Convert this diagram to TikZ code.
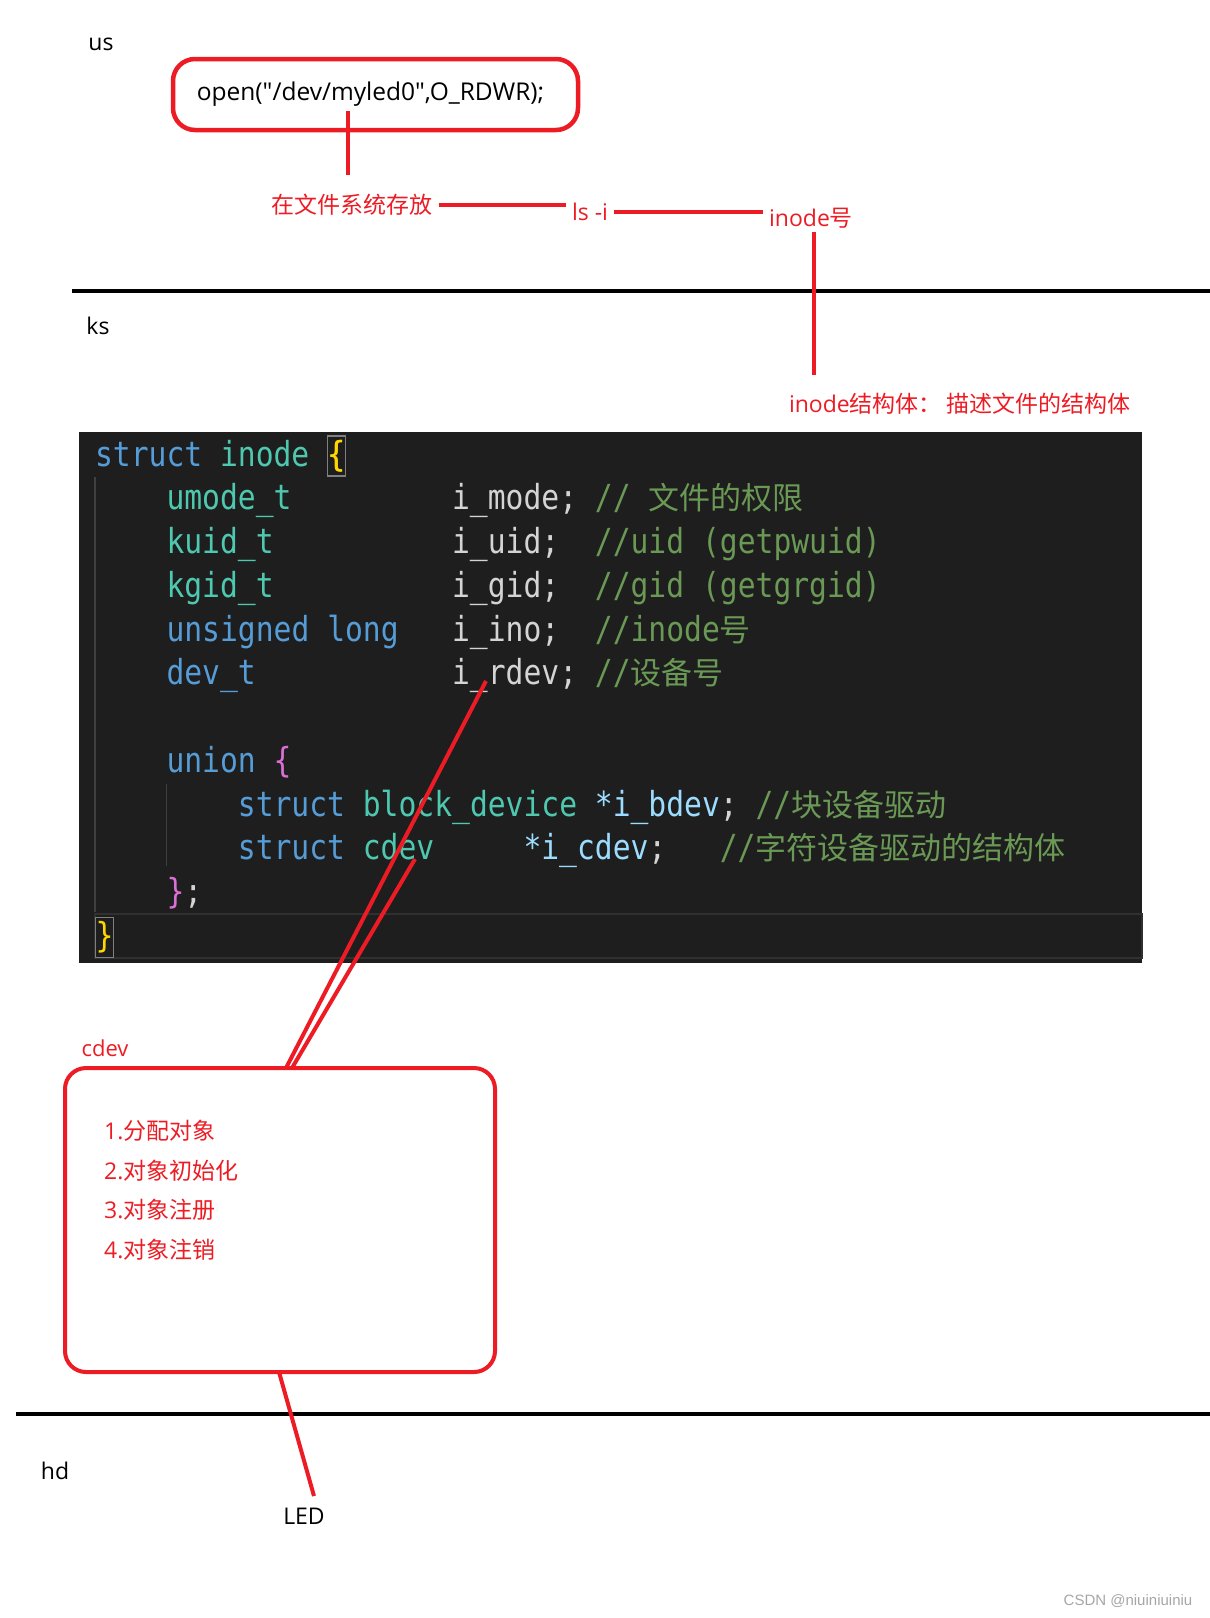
\documentclass[tikz,border=0pt]{standalone}
\usepackage{fontspec}
\setmainfont{Open Sans}
\newfontfamily\callfont{Open Sans}
\newfontfamily\cjk{Noto Sans CJK SC}
\newfontfamily\codefont[FakeStretch=0.86]{DejaVu Sans Mono}
\newfontfamily\markfont{Liberation Sans}

\definecolor{markred}{HTML}{ED1C24}
\definecolor{codebg}{HTML}{1E1E1E}
\definecolor{kwblue}{HTML}{569CD6}
\definecolor{tyteal}{HTML}{4EC9B0}
\definecolor{idwhite}{HTML}{D4D4D4}
\definecolor{varblue}{HTML}{9CDCFE}
\definecolor{cmgreen}{HTML}{6A9955}
\definecolor{braceyellow}{HTML}{FFD700}
\definecolor{bracepink}{HTML}{DA70D6}
\definecolor{guidegray}{HTML}{404040}
\definecolor{hlgray}{HTML}{303030}

% one token of the code listing: name, column, row, colour, text
\newcommand{\codetok}[5]{\node[code,text=#4] (#1) at ({94.9+#2*17.85},{466+#3*43.75}) {#5};}
\newcommand{\cjkcode}{\cjk\fontsize{31}{36}\selectfont}

\begin{document}
\begin{tikzpicture}[x=1pt,y=-1pt,
    redline/.style={draw=markred,line width=4pt},
    redbox/.style={draw=markred,line width=4.5pt,rounded corners=22pt},
    redtext/.style={text=markred,font=\fontsize{23}{28}\selectfont,inner sep=6pt},
    blacktext/.style={font=\fontsize{23}{28}\selectfont,inner sep=6pt},
    layerline/.style={line width=4pt,black},
    code/.style={font=\codefont\fontsize{34.5}{40}\selectfont,anchor=base west,inner sep=0pt},
    bracebox/.style={draw=gray,line width=1.2pt,text height=30pt,text depth=10pt},
    guide/.style={draw=guidegray,line width=1.5pt}]
    \useasboundingbox (0,0) rectangle (1210,1618);

    % Layer names
    \node[blacktext] (us) at (101,44) {us};
    \node[blacktext] (ks) at (98,326) {ks};
    \node[blacktext] (hd) at (55,1471) {hd};

    % Layer borders
    \coordinate (b1l) at (72,291);
    \coordinate (b1r) at (1210,291);
    \coordinate (b2l) at (16,1414);
    \coordinate (b2r) at (1210,1414);
    \draw[layerline] (b1l) -- (b1r);
    \draw[layerline] (b2l) -- (b2r);

    % User space call
    \node[redbox,minimum width=405,minimum height=71,text=black,
      font=\callfont\fontsize{24.5}{28}\selectfont] (openbox) at (375.5,94.5) {\hspace*{-10pt}open("/dev/myled0",O\_RDWR);};
    \node[redtext] (store) at (352,205) {\cjk 在文件系统存放};
    \node[redtext] (lsi) at (590,212) {ls -i};
    \node[redtext] (inonum) at (811,218) {inode{\cjk 号}};
    \node[redtext] (idesc) at (960,404) {inode{\cjk 结构体： 描述文件的结构体}};

    \coordinate (c1) at (348,111);
    \coordinate (c2) at (348,175);
    \coordinate (c3) at (814,232);
    \coordinate (c4) at (814,375);
    \draw[redline] (c1) -- (c2);
    \draw[redline] (store.east) -- (store.east -| lsi.west);
    \draw[redline] (lsi.east) -- (lsi.east -| inonum.west);
    \draw[redline] (c3) -- (c4);

    % Code listing
    \node[fill=codebg,minimum width=1063,minimum height=531,inner sep=0pt] (codebox) at (610.5,697.5) {};
    \draw[draw=hlgray,line width=2pt] (95,914) rectangle (1142,958);
    \draw[guide] (94.9,477) -- (94.9,912);
    \draw[guide] (166.3,784) -- (166.3,866);

    \codetok{r0a}{0}{0}{kwblue}{struct}
    \codetok{r0b}{7}{0}{tyteal}{inode}
    \codetok{r0c}{13}{0}{braceyellow}{\{}
    \node[bracebox,code,text=braceyellow] (r0box) at (r0c.base west) {\{};

    \codetok{r1a}{4}{1}{tyteal}{umode\_t}
    \codetok{r1b}{20}{1}{idwhite}{i\_mode;}
    \codetok{r1c}{28}{1}{cmgreen}{// {\cjkcode 文件的权限}}

    \codetok{r2a}{4}{2}{tyteal}{kuid\_t}
    \codetok{r2b}{20}{2}{idwhite}{i\_uid;}
    \codetok{r2c}{28}{2}{cmgreen}{//uid (getpwuid)}

    \codetok{r3a}{4}{3}{tyteal}{kgid\_t}
    \codetok{r3b}{20}{3}{idwhite}{i\_gid;}
    \codetok{r3c}{28}{3}{cmgreen}{//gid (getgrgid)}

    \codetok{r4a}{4}{4}{kwblue}{unsigned long}
    \codetok{r4b}{20}{4}{idwhite}{i\_ino;}
    \codetok{r4c}{28}{4}{cmgreen}{//inode{\cjkcode 号}}

    \codetok{r5a}{4}{5}{kwblue}{dev\_t}
    \codetok{r5b}{20}{5}{idwhite}{i\_rdev;}
    \codetok{r5c}{28}{5}{cmgreen}{//{\cjkcode 设备号}}

    \codetok{r7a}{4}{7}{kwblue}{union}
    \codetok{r7b}{10}{7}{bracepink}{\{}

    \codetok{r8a}{8}{8}{kwblue}{struct}
    \codetok{r8b}{15}{8}{tyteal}{block\_device}
    \codetok{r8c}{28}{8}{varblue}{*i\_bdev}
    \codetok{r8d}{35}{8}{idwhite}{;}
    \codetok{r8e}{37}{8}{cmgreen}{//{\cjkcode 块设备驱动}}

    \codetok{r9a}{8}{9}{kwblue}{struct}
    \codetok{r9b}{15}{9}{tyteal}{cdev}
    \codetok{r9c}{24}{9}{varblue}{*i\_cdev}
    \codetok{r9d}{31}{9}{idwhite}{;}
    \codetok{r9e}{35}{9}{cmgreen}{//{\cjkcode 字符设备驱动的结构体}}

    \codetok{r10a}{4}{10}{bracepink}{\}}
    \codetok{r10b}{5}{10}{idwhite}{;}

    \node[bracebox,code,text=braceyellow] (r11a) at ({94.9},{466+11*43.75}) {\}};

    % Character device object
    \node[text=markred,font=\fontsize{22}{26}\selectfont] (cdevname) at (105,1048) {cdev};
    \node[redbox,line width=4pt,rounded corners=21pt,minimum width=430,minimum height=304] (cdevbox) at (280,1220) {};
    \node[redtext,anchor=west] (step1) at (98,1131) {1.{\cjk 分配对象}};
    \node[redtext,anchor=west] (step2) at (98,1171) {2.{\cjk 对象初始化}};
    \node[redtext,anchor=west] (step3) at (98,1210) {3.{\cjk 对象注册}};
    \node[redtext,anchor=west] (step4) at (98,1250) {4.{\cjk 对象注销}};

    % Links from the inode fields
    \coordinate (rdevpt) at (486,681);
    \coordinate (cdevpt) at (415,859);
    \coordinate (boxin1) at (286,1068);
    \coordinate (boxin2) at (292,1068);
    \draw[redline] (rdevpt) -- (boxin1);
    \draw[redline] (cdevpt) -- (boxin2);

    % Hardware
    \node[blacktext] (led) at (304,1516) {LED};
    \coordinate (boxout) at (279,1372);
    \coordinate (ledin) at (314,1496);
    \draw[redline] (boxout) -- (ledin);

    \node[text=gray!70,font=\markfont\fontsize{15}{18}\selectfont] (mark) at (1128,1601) {CSDN @niuiniuiniu};
\end{tikzpicture}
\end{document}
